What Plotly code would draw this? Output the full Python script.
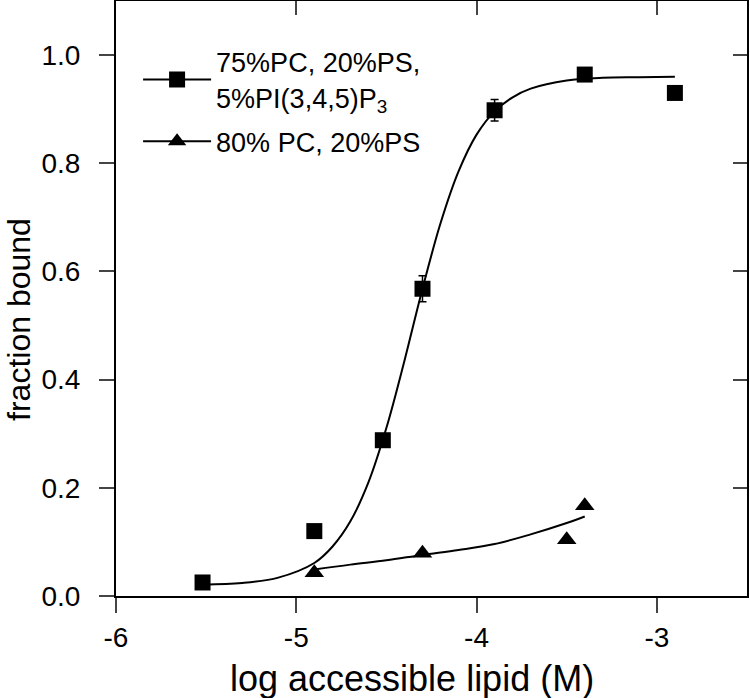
import plotly.graph_objects as go

# ---- data ----
pip3_x = [-5.52, -4.90, -4.52, -4.30, -3.90, -3.40, -2.90]
pip3_y = [0.025, 0.120, 0.288, 0.568, 0.898, 0.964, 0.930]
pip3_err = [0.0, 0.0, 0.012, 0.024, 0.020, 0.0, 0.0]

ps_x = [-4.90, -4.30, -3.50, -3.40]
ps_y = [0.043, 0.079, 0.104, 0.167]

# fitted curves
fit1_x = [-5.52, -5.3, -5.1, -4.9, -4.8, -4.7, -4.6, -4.5, -4.4, -4.3, -4.2,
          -4.1, -4.0, -3.9, -3.8, -3.7, -3.5, -3.3, -3.1, -2.9]
fit1_y = [0.021, 0.024, 0.034, 0.061, 0.091, 0.138, 0.210, 0.311, 0.435, 0.568,
          0.689, 0.785, 0.853, 0.896, 0.922, 0.938, 0.953, 0.958, 0.959, 0.960]

fit2_x = [-4.9, -4.7, -4.5, -4.3, -4.1, -3.9, -3.7, -3.5, -3.4]
fit2_y = [0.049, 0.058, 0.066, 0.076, 0.085, 0.096, 0.114, 0.135, 0.147]

x_tick_vals = [-6, -5, -4, -3]
x_tick_labels = ["-6", "-5", "-4", "-3"]
y_tick_vals = [0.0, 0.2, 0.4, 0.6, 0.8, 1.0]
y_tick_labels = ["0.0", "0.2", "0.4", "0.6", "0.8", "1.0"]

x_title = "log accessible lipid (M)"
y_title = "fraction bound"
name1 = "75%PC, 20%PS,<br>5%PI(3,4,5)P<sub>3</sub>"
name2 = "80% PC, 20%PS"

FONT = "Liberation Sans, Arial, sans-serif"

fig = go.Figure()

fig.add_trace(go.Scatter(x=fit1_x, y=fit1_y, mode="lines", line=dict(color="black", width=2, shape="spline"),
                         showlegend=False, hoverinfo="skip"))
fig.add_trace(go.Scatter(x=fit2_x, y=fit2_y, mode="lines", line=dict(color="black", width=2, shape="spline"),
                         showlegend=False, hoverinfo="skip"))

fig.add_trace(go.Scatter(x=pip3_x, y=pip3_y, mode="markers", name=name1,
                         marker=dict(symbol="square", size=16, color="black"),
                         error_y=dict(type="data", array=pip3_err, color="black", thickness=1.5, width=4),
                         showlegend=False))
fig.add_trace(go.Scatter(x=ps_x, y=ps_y, mode="markers", name=name2,
                         marker=dict(symbol="triangle-up", size=17, color="black"),
                         showlegend=False))

# legend entries (line + marker samples)
fig.add_trace(go.Scatter(x=[None], y=[None], mode="lines+markers", name=name1, legendgroup="a",
                         line=dict(color="black", width=2),
                         marker=dict(symbol="square", size=16, color="black")))
fig.add_trace(go.Scatter(x=[None], y=[None], mode="lines+markers", name=name2, legendgroup="b",
                         line=dict(color="black", width=2),
                         marker=dict(symbol="triangle-up", size=17, color="black")))

# dummy trace for mirrored inward ticks
fig.add_trace(go.Scatter(x=[None], y=[None], xaxis="x2", yaxis="y2", showlegend=False, hoverinfo="skip"))

fig.update_layout(
    width=750, height=698,
    margin=dict(l=116, r=3, t=1, b=102),
    plot_bgcolor="white", paper_bgcolor="white",
    font=dict(family=FONT, color="black"),
    xaxis=dict(range=[-6, -2.5], tickvals=x_tick_vals, ticktext=x_tick_labels,
               ticks="outside", ticklen=15, tickwidth=2, ticklabelstandoff=0, automargin=False,
               showline=True, linewidth=2, linecolor="black", mirror=True, showgrid=False, zeroline=False,
               tickfont=dict(size=28)),
    yaxis=dict(range=[0, 1.1], tickvals=y_tick_vals, ticktext=y_tick_labels,
               ticks="outside", ticklen=15, tickwidth=2, ticklabelstandoff=13, automargin=False,
               showline=True, linewidth=2, linecolor="black", mirror=True, showgrid=False, zeroline=False,
               tickfont=dict(size=28)),
    xaxis2=dict(range=[-6, -2.5], tickvals=x_tick_vals, overlaying="x", side="top", anchor="y",
                ticks="inside", ticklen=14, tickwidth=2, showticklabels=False, showgrid=False,
                zeroline=False, showline=False, automargin=False),
    yaxis2=dict(range=[0, 1.1], tickvals=y_tick_vals, overlaying="y", side="right", anchor="x",
                ticks="inside", ticklen=14, tickwidth=2, showticklabels=False, showgrid=False,
                zeroline=False, showline=False, automargin=False),
    legend=dict(x=0.035, y=0.938, xanchor="left", yanchor="top", bgcolor="rgba(0,0,0,0)",
                font=dict(size=27, family=FONT), itemwidth=68, tracegroupgap=6),
    showlegend=True,
    annotations=[
        dict(text=x_title, xref="paper", yref="paper", x=0.469, y=-0.139,
             xanchor="center", yanchor="middle", showarrow=False, font=dict(size=36, family=FONT)),
        dict(text=y_title, xref="paper", yref="paper", x=-0.1537, y=0.464, textangle=-90,
             xanchor="center", yanchor="middle", showarrow=False, borderpad=0,
             font=dict(size=32, family=FONT)),
    ],
)

fig.write_html("out.html", config={"displayModeBar": False},
               post_script="document.body.style.margin='0';document.body.style.overflow='hidden';")
